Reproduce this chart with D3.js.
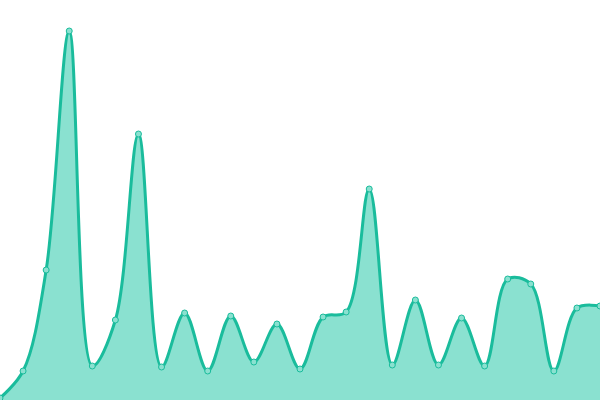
<!DOCTYPE html>
<html>
<head>
<meta charset="utf-8">
<script src="https://cdn.jsdelivr.net/npm/d3@7"></script>
<style>
  html, body { margin: 0; padding: 0; background: #fff; }
  svg { display: block; }
</style>
</head>
<body>
<svg id="chart" width="600" height="400"></svg>
<script>
// values, one per step
const indices = d3.range(27);
const values = [2, 29, 130, 369, 34, 80, 266, 33, 87, 29, 84, 38, 76, 31, 83, 88,
                211, 35, 100, 35, 82, 34, 121, 116, 29, 92, 94];

const width = 600, height = 400;
const svg = d3.select("#chart");

const xScale = d3.scaleLinear()
    .domain([0, indices.length - 1])
    .range([0, width]);
const yScale = d3.scaleLinear()
    .domain([0, 400])
    .range([height, 0]);

const data = indices.map(i => ({ i: i, v: values[i] }));

// Flaeche
const area = d3.area()
    .x(d => xScale(d.i))
    .y0(height)
    .y1(d => yScale(d.v))
    .curve(d3.curveCatmullRom.alpha(0.5));

svg.append("path")
    .datum(data)
    .attr("d", area)
    .attr("fill", "#8ae1d0");

// Linie
const line = d3.line()
    .x(d => xScale(d.i))
    .y(d => yScale(d.v))
    .curve(d3.curveCatmullRom.alpha(0.5));

svg.append("path")
    .datum(data)
    .attr("d", line)
    .attr("fill", "none")
    .attr("stroke", "#1abc9c")
    .attr("stroke-width", 3);

// Punkte
svg.selectAll(".dot")
    .data(data)
    .join("circle")
    .attr("class", "dot")
    .attr("cx", d => xScale(d.i))
    .attr("cy", d => yScale(d.v))
    .attr("r", 3)
    .attr("fill", "#8ae1d0")
    .attr("stroke", "#1abc9c")
    .attr("stroke-width", 1);
</script>
</body>
</html>
